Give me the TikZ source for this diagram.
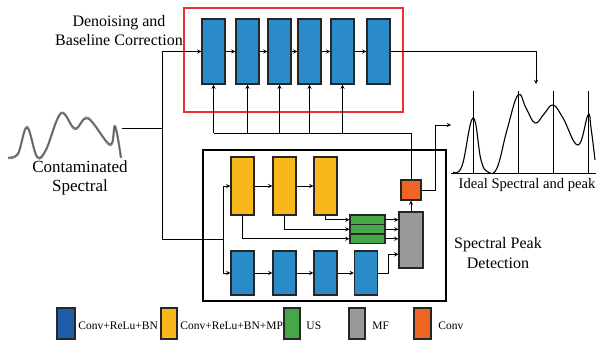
\documentclass[tikz,border=0pt]{standalone}
\usepackage{fontspec}
\setmainfont{Liberation Serif}
\usetikzlibrary{calc}
\definecolor{cblue}{HTML}{2B8AC8}
\definecolor{cdblue}{HTML}{1F5CA8}
\definecolor{cyel}{HTML}{F8B81C}
\definecolor{cgreen}{HTML}{46A748}
\definecolor{cgray}{HTML}{999999}
\definecolor{corange}{HTML}{EE6524}
\definecolor{cred}{HTML}{EE2D34}
\begin{document}
\begin{tikzpicture}[x=1pt,y=-1pt,>=stealth,line width=0.9pt,
    blk/.style={draw=black!85,line width=1.2pt,minimum width=23pt,inner sep=0pt},
    lbl/.style={font=\fontsize{16}{19}\selectfont,align=center,inner sep=0pt},
    leg/.style={font=\fontsize{11.5}{13}\selectfont,anchor=west,inner sep=0pt}]
                \useasboundingbox (0,0) rectangle (609,340);
                % denoising network
                \draw[cred,line width=1.1pt] (184,8) rectangle (403,112);
                \foreach \i/\x in {1/213.5,2/247.5,3/279.5,4/309.5,5/342.5,6/378.5}{
                    \node[blk,fill=cblue,minimum height=65pt] (d\i) at (\x,51.5) {};
                }
                \foreach \i/\j in {1/2,2/3,3/4,4/5,5/6}{
                    \draw[->] (d\i) -- (d\j);
                }
                % peak detection network
                \draw[line width=1.1pt] (203,150) rectangle (446,301);
                \foreach \i/\x in {1/242.5,2/284.5,3/325.5}{
                    \node[blk,fill=cyel,minimum height=58pt] (y\i) at (\x,186) {};
                }
                \foreach \i/\x in {1/242.5,2/284.5,3/325.5,4/366}{
                    \node[blk,fill=cblue,minimum height=44pt] (b\i) at (\x,273) {};
                }
                \foreach \i/\y in {1/219.75,2/229.25,3/238.75}{
                    \node[blk,fill=cgreen,minimum width=35pt,minimum height=9.5pt] (g\i) at (367.5,\y) {};
                }
                \node[blk,fill=cgray,minimum width=24pt,minimum height=56pt] (mf) at (411,240) {};
                \node[blk,fill=corange,minimum width=20pt,minimum height=20pt] (cv) at (411,190) {};
                \draw[->] (y1) -- (y2);
                \draw[->] (y2) -- (y3);
                \draw[->] (b1) -- (b2);
                \draw[->] (b2) -- (b3);
                \draw[->] (b3) -- (b4);
                \draw[->] (y3.south) |- (g1.west);
                \draw[->] (y2.south) |- (g2.west);
                \draw[->] (y1.south) |- (g3.west);
                \foreach \i in {1,2,3}{
                    \draw[->] (g\i.east) -- (g\i.east -| mf.west);
                }
                \draw[->] (b4.east) -- ++(10,0) |- ($(mf.west)!0.5!(mf.south west)$);
                \draw[->] (mf) -- (cv);
                % contaminated input
                \draw[gray,line width=2.2pt,line join=round] plot[smooth,tension=0.6] coordinates {(8,158) (18,154) (27,127) (37,157) (46,150) (61,113) (75,129) (88,118) (110,145) (115,126) (121,158)};
                \draw[black!70,line width=0.5pt] plot[smooth,tension=0.6] coordinates {(8,157) (18,153) (27,128) (37,156) (46,149) (61,114) (75,128) (88,119) (110,144) (115,127) (121,157)};
                \coordinate (inp) at (122,128);
                \coordinate (sp) at (162,128);
                \coordinate (kk) at (223,239);
                \draw (inp) -- (sp);
                \draw[->] (sp) |- (d1.west);
                \draw (sp) |- (kk);
                \draw[->] (kk) |- (y1.west);
                \draw[->] (kk) |- (b1.west);
                % feedback from conv
                \coordinate (fb) at (213.5,133);
                \draw (cv.north) |- (fb);
                \foreach \i in {1,...,5}{
                    \draw[->] (d\i.south |- fb) -- (d\i.south);
                }
                % ideal spectral
                \coordinate (tp) at (536,84);
                \coordinate (pk) at (451,125);
                \draw[->] (d6.east) -| (tp);
                \draw[->] (cv.east) -- ++(14,0) |- (pk);
                \draw[line width=0.8pt] (451,173) -- (596,173);
                \foreach \x/\t in {473/91,518/91,553/91,588/91}{
                    \draw[line width=0.8pt] (\x,\t) -- (\x,173);
                }
                \draw[line width=1.1pt] plot[smooth,tension=0.7] coordinates {(453,172) (462,166) (473,118) (481,160) (488,172) (497,168) (507,130) (518,95) (526,108) (535,123) (544,114) (553,105) (563,118) (578,145) (588,115) (591,128) (595,160)};
                % labels
                \node[lbl] (den) at (119,31) {Denoising and\\Baseline Correction};
                \node[lbl,font=\fontsize{17}{19}\selectfont] (con) at (80,178) {Contaminated\\Spectral};
                \node[lbl,font=\fontsize{14.6}{17}\selectfont] (ide) at (527,185) {Ideal Spectral and peak};
                \node[lbl,font=\fontsize{16}{20}\selectfont] (det) at (498,253) {Spectral Peak\\Detection};
                % legend
                \foreach \a/\b/\c/\t in {57/75/cdblue/Conv+ReLu+BN,161/177/cyel/Conv+ReLu+BN+MP,284/300/cgreen/US,349/365/cgray/MF,414/431/corange/Conv}{
                    \filldraw[fill=\c,draw=black!85,line width=1.2pt] (\a,308) rectangle (\b,339);
                }
                \node[leg] (l1) at (78,326) {Conv+ReLu+BN};
                \node[leg] (l2) at (180,326) {Conv+ReLu+BN+MP};
                \node[leg] (l3) at (306,326) {US};
                \node[leg] (l4) at (372,326) {MF};
                \node[leg] (l5) at (438,326) {Conv};
            \end{tikzpicture}
\end{document}
